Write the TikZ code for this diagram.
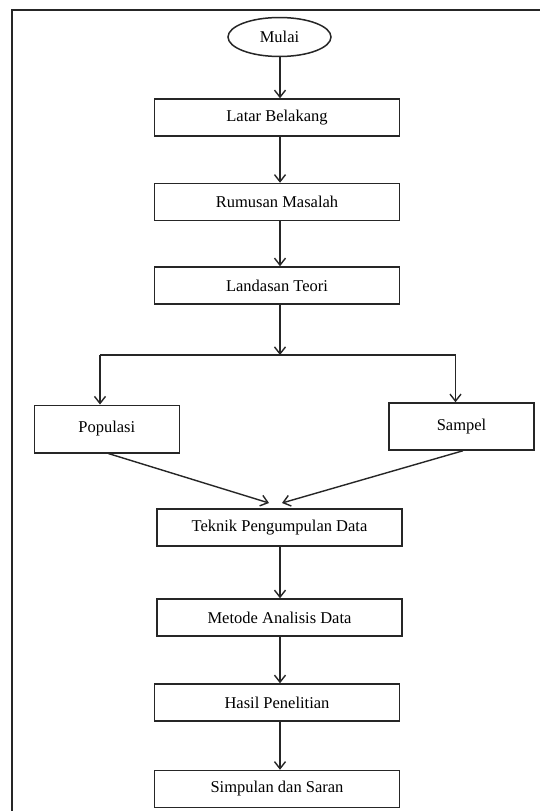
\documentclass[tikz,border=0pt]{standalone}
\usepackage{fontspec}
\setmainfont{Liberation Serif}
\usetikzlibrary{arrows.meta,shapes.geometric,calc}
\begin{document}
\begin{tikzpicture}[x=1pt,y=-1pt,
  box/.style={draw=black!85,line width=1.5pt,minimum width=245pt,minimum height=37pt,inner sep=0pt,font=\fontsize{16.5}{19}\selectfont},
  sbox/.style={box,minimum width=145pt,minimum height=47.5pt},
  arr/.style={draw=black!85,line width=1.4pt,-{Straight Barb[length=7pt,width=11pt]}},
  ln/.style={draw=black!85,line width=1.4pt}]
\useasboundingbox (0,0) rectangle (540,811);
\fill[white] (0,0) rectangle (540,811);
\draw[line width=1.6pt,black!85] (12,811) -- (12,10) -- (540,10);
\coordinate (ax) at (280,0);
\node[draw=black!85,line width=1.5pt,ellipse,minimum width=103pt,minimum height=39pt,inner sep=0pt,font=\fontsize{16.5}{19}\selectfont] (mulai) at (279.5,37) {Mulai};
\node[box] (latar) at (277,117.5) {Latar Belakang};
\node[box] (rumusan) at (277,202) {Rumusan Masalah};
\node[box] (landasan) at (277,285.5) {Landasan Teori};
\node[sbox] (populasi) at (106.8,429) {Populasi};
\node[sbox,minimum height=47pt] (sampel) at (461.5,426.5) {Sampel};
\node[box] (teknik) at (279.5,527.5) {Teknik Pengumpulan Data};
\node[box] (metode) at (279.5,617.5) {Metode Analisis Data};
\node[box] (hasil) at (277,702.5) {Hasil Penelitian};
\node[box] (simpulan) at (277,789) {Simpulan dan Saran};
\draw[arr] (mulai.south -| ax) -- (latar.north -| ax);
\draw[arr] (latar.south -| ax) -- (rumusan.north -| ax);
\draw[arr] (rumusan.south -| ax) -- (landasan.north -| ax);
\coordinate (j) at (280,355);
\coordinate (jl) at (100,355);
\coordinate (jr) at (455.5,355);
\draw[arr] (landasan.south -| ax) -- (j);
\draw[ln] (jl) -- (jr);
\draw[arr] (jl) -- (jl |- populasi.north);
\draw[arr] (jr) -- (jr |- sampel.north);
\coordinate (tl) at (269,503);
\coordinate (tr) at (282,503);
\draw[arr] ($(populasi.south)+(1.5,0)$) -- (tl);
\draw[arr] ($(sampel.south)+(1.5,0)$) -- (tr);
\draw[arr] (teknik.south -| ax) -- (metode.north -| ax);
\draw[arr] (metode.south -| ax) -- (hasil.north -| ax);
\draw[arr] (hasil.south -| ax) -- (simpulan.north -| ax);
\end{tikzpicture}
\end{document}
